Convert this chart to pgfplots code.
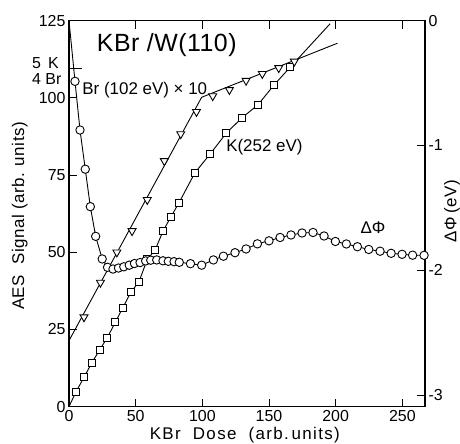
\documentclass[border=0pt]{standalone}
\usepackage{fontspec}
\setmainfont{Liberation Sans}
\usepackage{pgfplots}
\pgfplotsset{compat=1.18}
\begin{document}
\begin{tikzpicture}
\path[use as bounding box] (-69bp,-37.3bp) rectangle (391bp,406.7bp);
\begin{axis}[
  at={(0,0)}, anchor=south west,
  width=356bp, height=386bp, scale only axis,
  xmin=0, xmax=267, ymin=0, ymax=125,
  xtick={0,50,...,250}, ytick={0,25,...,125},
  xtick pos=both, ytick pos=left,
  tick align=inside, major tick length=8bp,
  axis line style={line width=1.1bp},
  every tick/.style={line width=1bp, black},
  tick label style={font=\fontsize{16}{16}\selectfont},
  /pgf/number format/assume math mode=true,
  clip=false,
]
% K (252 eV) line and squares
\addplot[line width=0.9bp, no markers] coordinates {
(0,0) (5.25,4.86) (11.25,9.5) (17.0,14.15) (23.0,18.4) (28.5,22.2) (34.7,27.3)
(40.3,32.0) (46.3,37.0) (52.5,40.5) (58.7,47.7) (64.5,50.7) (70.7,57.0) (76.3,61.4)
(82.3,65.9) (94.5,75.8) (105.8,81.8) (117.8,88.5) (129.8,93.6) (141.6,97.7)
(153.8,104.2) (165.8,109.9) (195.8,124.0)};
% Br line (fitted)
\addplot[line width=0.9bp, no markers] coordinates {(0,21.4) (99.5,100.2) (201.3,117.7)};
\addplot[only marks, mark=square*, mark size=3.5bp, mark options={fill=white, line width=0.9bp}] coordinates {
(5.25,4.86) (11.25,9.5) (17.0,14.15) (23.0,18.4) (28.5,22.2) (34.7,27.3)
(40.3,32.0) (46.3,37.0) (52.5,40.5) (58.7,47.7) (64.5,50.7) (70.7,57.0) (76.3,61.4)
(82.3,65.9) (94.5,75.8) (105.8,81.8) (117.8,88.5) (129.8,93.6) (141.6,97.7)
(153.8,104.2) (165.8,109.9)};
\addplot[only marks, mark=triangle*, mark size=4.6bp, mark options={rotate=180, fill=white, line width=0.9bp}] coordinates {
(11.25,29.0) (23.6,40.2) (35.9,50.0) (47.3,56.9) (58.7,67.0) (71.5,79.6) (83.8,88.3)
(95.6,95.5) (107.8,100.6) (120.3,102.6) (132.8,105.6) (145.0,107.8) (157.3,109.7) (169.0,111.8)};
% annotations
\draw[line width=1bp] (axis cs:0,109.4) -- (axis cs:9.7,109.4);
\node[anchor=west, inner sep=0, font=\fontsize{25}{25}\selectfont\addfontfeature{LetterSpace=2}] at (axis cs:20.8,117.1) {KBr /W(110)};
\node[anchor=west, inner sep=0, font=\fontsize{17}{17}\selectfont] at (axis cs:9.9,102.6) {Br (102 eV) × 10};
\node[anchor=west, inner sep=0, font=\fontsize{17}{17}\selectfont] at (axis cs:117.8,84.1) {K(252 eV)};
\node[inner sep=0, font=\fontsize{17}{17}\selectfont] at (axis cs:228,57.9) {ΔΦ};
\node[anchor=west, inner sep=0, font=\fontsize{16}{16}\selectfont] at (axis cs:-27.8,111.2) {5\ \,K};
\node[anchor=west, inner sep=0, font=\fontsize{16}{16}\selectfont] at (axis cs:-27.8,106.0) {4 Br};
\node[rotate=90, inner sep=0, font=\fontsize{17}{17}\selectfont\addfontfeature{LetterSpace=3}] at (rel axis cs:-0.138,0.494) {AES\ \ Signal (arb. units)};
\node[inner sep=0, font=\fontsize{17}{17}\selectfont\addfontfeature{LetterSpace=8}] at (rel axis cs:0.494,-0.073) {KBr\ \ Dose\ \ (arb.\,units)};
\node[rotate=90, inner sep=0, font=\fontsize{17}{17}\selectfont\addfontfeature{LetterSpace=4}] at (rel axis cs:1.076,0.507) {ΔΦ\,(eV)};
\end{axis}
\begin{axis}[
  at={(0,0)}, anchor=south west,
  width=356bp, height=386bp, scale only axis,
  xmin=0, xmax=267, ymin=-3.093, ymax=0,
  axis x line=none, axis y line*=right,
  ytick={0,-1,-2,-3},
  tick align=inside, major tick length=8bp,
  axis line style={line width=1.1bp, -},
  every tick/.style={line width=1bp, black},
  tick label style={font=\fontsize{16}{16}\selectfont},
  /pgf/number format/assume math mode=true,
  clip=false,
]
\addplot[line width=0.9bp, no markers] coordinates {
(0,0) (4.5,-0.486) (8.25,-0.876) (12.2,-1.19) (16.0,-1.49) (20.0,-1.728) (24.9,-1.909)
(28.9,-1.976) (33.0,-1.99) (37.1,-1.982) (41.1,-1.972) (45.2,-1.959) (49.1,-1.946)
(53.3,-1.938) (57.5,-1.925) (61.3,-1.919) (65.8,-1.917) (70.5,-1.924) (74.5,-1.928)
(78.8,-1.931) (82.7,-1.936) (91.1,-1.947) (99.5,-1.959) (108.3,-1.917) (115.8,-1.887)
(124.5,-1.859) (132.8,-1.829) (141.3,-1.788) (150.0,-1.764) (158.3,-1.737) (166.5,-1.717)
(174.8,-1.701) (183.0,-1.697) (191.3,-1.725) (199.8,-1.769) (208.0,-1.789) (216.3,-1.811)
(224.8,-1.833) (233.3,-1.847) (241.6,-1.864) (249.8,-1.872) (257.7,-1.879) (266.3,-1.880)};
\addplot[only marks, mark=*, mark size=4.2bp, mark options={fill=white, line width=0.9bp}] coordinates {
(4.5,-0.486) (8.25,-0.876) (12.2,-1.19) (16.0,-1.49) (20.0,-1.728) (24.9,-1.909)
(28.9,-1.976) (33.0,-1.99) (37.1,-1.982) (41.1,-1.972) (45.2,-1.959) (49.1,-1.946)
(53.3,-1.938) (57.5,-1.925) (61.3,-1.919) (65.8,-1.917) (70.5,-1.924) (74.5,-1.928)
(78.8,-1.931) (82.7,-1.936) (91.1,-1.947) (99.5,-1.959) (108.3,-1.917) (115.8,-1.887)
(124.5,-1.859) (132.8,-1.829) (141.3,-1.788) (150.0,-1.764) (158.3,-1.737) (166.5,-1.717)
(174.8,-1.701) (183.0,-1.697) (191.3,-1.725) (199.8,-1.769) (208.0,-1.789) (216.3,-1.811)
(224.8,-1.833) (233.3,-1.847) (241.6,-1.864) (249.8,-1.872) (257.7,-1.879) (266.3,-1.880)};
\end{axis}
\end{tikzpicture}
\end{document}
